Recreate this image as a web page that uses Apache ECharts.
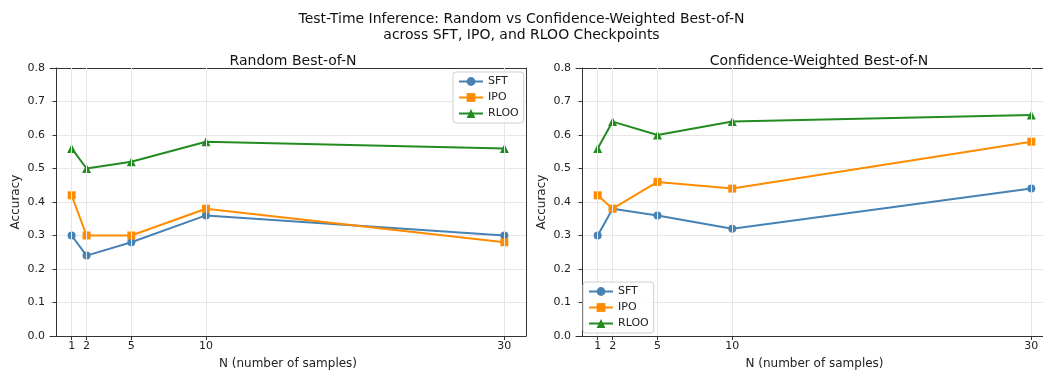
<!DOCTYPE html>
<html>
<head>
<meta charset="utf-8">
<script src="https://cdn.jsdelivr.net/npm/echarts@6/dist/echarts.min.js"></script>
<style>
  html, body { margin: 0; padding: 0; background: #fff; }
  #chart { width: 1043px; height: 372px; }
</style>
</head>
<body>
<div id="chart"></div>
<script>
// N values (x axis)
const nValues = [1, 2, 5, 10, 30];

// Random Best-of-N
const randomSFT = [0.30, 0.24, 0.28, 0.36, 0.30];
const randomIPO = [0.42, 0.30, 0.30, 0.38, 0.28];
const randomRLOO = [0.56, 0.50, 0.52, 0.58, 0.56];

// Confidence-Weighted Best-of-N
const confSFT = [0.30, 0.38, 0.36, 0.32, 0.44];
const confIPO = [0.42, 0.38, 0.46, 0.44, 0.58];
const confRLOO = [0.56, 0.64, 0.60, 0.64, 0.66];

const colors = { SFT: '#4682b4', IPO: '#ff8c00', RLOO: '#228b22' };
const symbols = { SFT: 'circle', IPO: 'rect', RLOO: 'triangle' };
const FONT = 'DejaVu Sans';
const X_MIN = -0.45, X_MAX = 31.45;

const pair = (ys) => nValues.map((x, i) => [x, ys[i]]);

function makeSeries(name, ys, idx) {
  return {
    name: name,
    type: 'line',
    xAxisIndex: idx,
    yAxisIndex: idx,
    data: pair(ys),
    symbol: symbols[name],
    symbolSize: name === 'RLOO' ? 9 : 8,
    itemStyle: { color: colors[name] },
    lineStyle: { color: colors[name], width: 2 },
    emphasis: { disabled: true },
    animation: false,
    z: 3
  };
}

// vertical grid lines at the N ticks
function gridLines(idx) {
  return {
    type: 'line',
    xAxisIndex: idx,
    yAxisIndex: idx,
    data: [],
    silent: true,
    markLine: {
      silent: true,
      symbol: 'none',
      label: { show: false },
      lineStyle: { color: '#e6e6e6', width: 1, type: 'solid' },
      data: nValues.map(v => ({ xAxis: v }))
    },
    z: 1
  };
}

function xAxis(idx) {
  return {
    type: 'value',
    gridIndex: idx,
    min: X_MIN,
    max: X_MAX,
    name: 'N (number of samples)',
    nameLocation: 'middle',
    nameGap: 22,
    nameTextStyle: { fontFamily: FONT, fontSize: 12, color: '#222' },
    axisLine: { onZero: false, lineStyle: { color: '#333', width: 1 } },
    axisTick: { show: true, length: 4, customValues: nValues, lineStyle: { color: '#333' } },
    axisLabel: { customValues: nValues, fontFamily: FONT, fontSize: 11, color: '#222', margin: 5 },
    splitLine: { show: false }
  };
}

// top spine
function xAxisTop(idx) {
  return {
    type: 'value',
    gridIndex: idx,
    position: 'top',
    min: X_MIN,
    max: X_MAX,
    axisLine: { onZero: false, lineStyle: { color: '#333', width: 1 } },
    axisTick: { show: false },
    axisLabel: { show: false },
    splitLine: { show: false }
  };
}

function yAxis(idx) {
  return {
    type: 'value',
    gridIndex: idx,
    min: 0,
    max: 0.8,
    interval: 0.1,
    name: 'Accuracy',
    nameLocation: 'middle',
    nameGap: 28,
    nameRotate: 90,
    nameTextStyle: { fontFamily: FONT, fontSize: 12, color: '#222' },
    axisLine: { show: true, lineStyle: { color: '#333', width: 1 } },
    axisTick: { show: true, length: 4, lineStyle: { color: '#333' } },
    axisLabel: {
      fontFamily: FONT, fontSize: 11, color: '#222', margin: 5,
      formatter: v => v.toFixed(1)
    },
    splitLine: { show: true, lineStyle: { color: '#e6e6e6', width: 1 } }
  };
}

// right spine
function yAxisRight(idx) {
  return {
    type: 'value',
    gridIndex: idx,
    position: 'right',
    min: 0,
    max: 0.8,
    interval: 0.1,
    axisLine: { show: true, onZero: false, lineStyle: { color: '#333', width: 1 } },
    axisTick: { show: false },
    axisLabel: { show: false },
    splitLine: { show: false }
  };
}

function legendAt(pos) {
  return Object.assign({
    orient: 'vertical',
    data: ['SFT', 'IPO', 'RLOO'],
    backgroundColor: 'rgba(255,255,255,0.85)',
    borderColor: '#d0d0d0',
    borderWidth: 1,
    borderRadius: 3,
    padding: [4, 5, 4, 5],
    itemGap: 5,
    itemWidth: 24,
    itemHeight: 11,
    textStyle: { fontFamily: FONT, fontSize: 11, color: '#222' },
    selectedMode: false,
    z: 10
  }, pos);
}

const chart = echarts.init(document.getElementById('chart'), null, { renderer: 'canvas' });

const option = {
  backgroundColor: '#fff',
  animation: false,
  title: [
    {
      text: 'Test-Time Inference: Random vs Confidence-Weighted Best-of-N\nacross SFT, IPO, and RLOO Checkpoints',
      left: 'center',
      top: 6,
      textStyle: { fontFamily: FONT, fontSize: 14, fontWeight: 'normal', color: '#111', lineHeight: 16, align: 'center' }
    },
    {
      text: 'Random Best-of-N',
      left: 288,
      top: 49,
      textAlign: 'center',
      textStyle: { fontFamily: FONT, fontSize: 14, fontWeight: 'normal', color: '#111' }
    },
    {
      text: 'Confidence-Weighted Best-of-N',
      left: 814,
      top: 49,
      textAlign: 'center',
      textStyle: { fontFamily: FONT, fontSize: 14, fontWeight: 'normal', color: '#111' }
    }
  ],
  legend: [
    legendAt({ left: 453, top: 72 }),
    legendAt({ left: 583, top: 282 })
  ],
  grid: [
    { left: 50, top: 68, width: 476, height: 268, outerBoundsMode: 'none' },
    { left: 576, top: 68, width: 477, height: 268, outerBoundsMode: 'none' }
  ],
  xAxis: [xAxis(0), xAxis(1), xAxisTop(0), xAxisTop(1)],
  yAxis: [yAxis(0), yAxis(1), yAxisRight(0), yAxisRight(1)],
  series: [
    gridLines(0),
    gridLines(1),
    makeSeries('SFT', randomSFT, 0),
    makeSeries('IPO', randomIPO, 0),
    makeSeries('RLOO', randomRLOO, 0),
    makeSeries('SFT', confSFT, 1),
    makeSeries('IPO', confIPO, 1),
    makeSeries('RLOO', confRLOO, 1)
  ]
};

chart.setOption(option);
</script>
</body>
</html>
